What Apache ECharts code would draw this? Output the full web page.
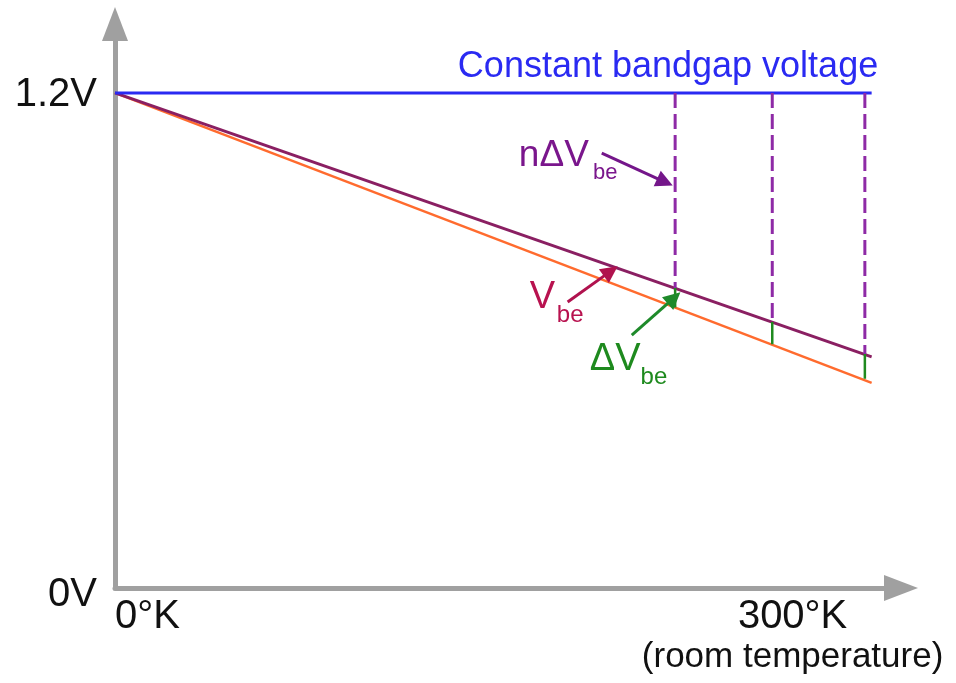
<!DOCTYPE html>
<html><head><meta charset="utf-8">
<script src="https://cdn.jsdelivr.net/npm/echarts@6/dist/echarts.min.js"></script>
<style>html,body{margin:0;padding:0;background:#fff}#c{width:956px;height:683px}</style>
</head><body><div id="c"></div><script>
// ---- data ----
const xTicks = [0, 300];
const xTickLabels = ['0°K', '300°K'];
const xTickNote = '(room temperature)';
const yTicks = [0, 1.2];
const yTickLabels = ['0V', '1.2V'];
const bandgapLine = [[0, 1.2], [335, 1.2]];
const upperLine = [[0, 1.2], [335, 0.56]];
const lowerLine = [[0, 1.2], [335, 0.497]];
const sampleT = [248, 291, 332];
const sampleUpper = [0.727, 0.645, 0.567];
const sampleLower = [0.680, 0.591, 0.507];
const arrowFrom = [[215.5, 1.054], [200.4, 0.693], [228.8, 0.613]];
const arrowTo = [[243.5, 0.984], [219.5, 0.768], [247.5, 0.703]];
const annoText = ['Constant bandgap voltage', 'nΔV', 'be', 'V', 'be', 'ΔV', 'be'];
const annoAt = [[151.8, 1.263], [178.8, 1.047], [211.6, 1.006], [183.6, 0.705], [195.6, 0.661], [210.2, 0.553], [232.7, 0.511]];

// ---- style ----
const BLUE = '#2a2af2', MAROON = '#8a1f62', ORANGE = '#ff6b2e', DPURPLE = '#8e2aa6', GREEN = '#1f8a1f';
const annoColor = [BLUE, '#7a168c', '#7a168c', '#b8124f', '#b8124f', '#1e8a1e', '#1e8a1e'];
const annoSize = [36, 37, 22, 38, 24, 38, 24];
const arrowColor = ['#74168a', '#b0124e', '#1e8a2a'];
const FONT = 'Liberation Sans, Arial, sans-serif';

const series = [];
series.push({type: 'line', data: lowerLine, symbol: 'none', lineStyle: {color: ORANGE, width: 2.5}, z: 2});
series.push({type: 'line', data: upperLine, symbol: 'none', lineStyle: {color: MAROON, width: 3}, z: 3});
series.push({type: 'line', data: bandgapLine, symbol: 'none', lineStyle: {color: BLUE, width: 3}, z: 3});
sampleT.forEach((t, i) => {
  series.push({type: 'line', data: [[t, 1.2], [t, sampleUpper[i]]], symbol: 'none',
    lineStyle: {color: DPURPLE, width: 3, type: [15, 6]}, z: 4});
  series.push({type: 'line', data: [[t, sampleUpper[i]], [t, sampleLower[i]]], symbol: 'none',
    lineStyle: {color: GREEN, width: 2.5}, z: 4});
});
series.push({
  type: 'lines', coordinateSystem: 'cartesian2d', z: 6,
  symbol: ['none', 'triangle'], symbolSize: 17,
  data: arrowFrom.map((f, i) => ({
    coords: [f, arrowTo[i]],
    lineStyle: {color: arrowColor[i], width: 3, opacity: 1},
    itemStyle: {color: arrowColor[i]}
  })),
  lineStyle: {width: 3, opacity: 1}
});
series.push({
  type: 'scatter', symbolSize: 0, z: 10,
  itemStyle: {opacity: 1},
  data: annoAt.map((p, i) => ({
    value: p,
    itemStyle: {opacity: 1},
    label: {show: true, position: 'right', distance: 0, formatter: annoText[i], opacity: 1,
      color: annoColor[i], fontSize: annoSize[i], fontFamily: FONT}
  }))
});

const chart = echarts.init(document.getElementById('c'));
chart.setOption({
  animation: false,
  backgroundColor: '#fff',
  grid: {left: 115, right: 55, top: 24, bottom: 95, containLabel: false},
  xAxis: {
    type: 'value', min: 0, max: 348,
    splitLine: {show: false}, axisTick: {show: false},
    axisLine: {lineStyle: {color: '#a0a0a0', width: 5}, symbol: ['none', 'triangle'], symbolSize: [26, 34]},
    axisLabel: {
      customValues: xTicks, alignMinLabel: 'left', margin: 8,
      formatter: v => {
        const i = xTicks.indexOf(v);
        return i === 1 ? '{a|' + xTickLabels[i] + '}\n{b|' + xTickNote + '}' : '{a|' + xTickLabels[i] + '}';
      },
      rich: {
        a: {fontSize: 40, lineHeight: 42, color: '#111', fontFamily: FONT},
        b: {fontSize: 35, lineHeight: 38, color: '#111', fontFamily: FONT}
      }
    }
  },
  yAxis: {
    type: 'value', min: 0, max: 1.367,
    splitLine: {show: false}, axisTick: {show: false},
    axisLine: {lineStyle: {color: '#a0a0a0', width: 5}, symbol: ['none', 'triangle'], symbolSize: [26, 34]},
    axisLabel: {
      customValues: yTicks, margin: 18,
      formatter: v => {
        const i = yTicks.indexOf(v);
        return i === 0 ? '{z|' + yTickLabels[i] + '}' : '{a|' + yTickLabels[i] + '}';
      },
      rich: {
        a: {fontSize: 40, color: '#111', fontFamily: FONT, padding: [4, 0, 0, 0]},
        z: {fontSize: 40, color: '#111', fontFamily: FONT, padding: [14, 0, 0, 0]}
      }
    }
  },
  series: series
});
</script></body></html>
